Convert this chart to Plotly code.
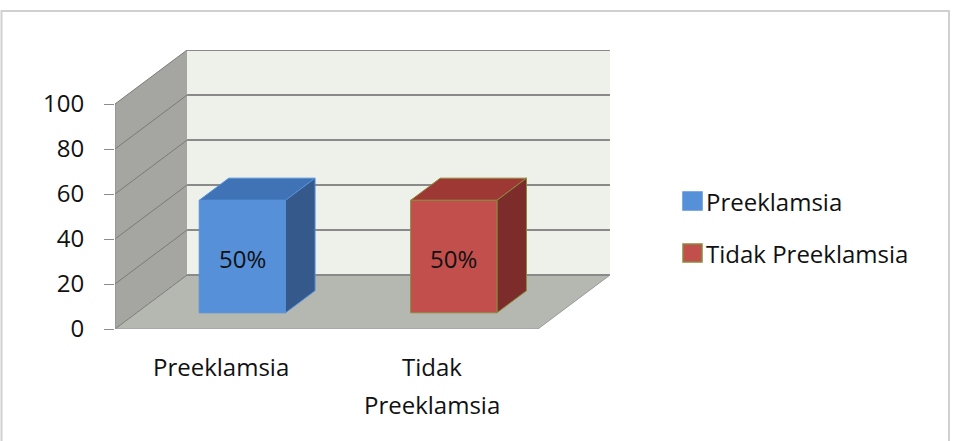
import plotly.graph_objects as go

# ---- data ----
categories = ["Preeklamsia", "Tidak Preeklamsia"]
category_lines = [["Preeklamsia"], ["Tidak", "Preeklamsia"]]
series_names = ["Preeklamsia", "Tidak Preeklamsia"]
values = [50, 50]
value_labels = ["50%", "50%"]
y_ticks = [0, 20, 40, 60, 80, 100]

# ---- styling / projection ----
W, H = 956, 441
L, T = 115, 50
R = W - 610
B = H - 329
DX, DY = 0.341, 24.0        # depth vector in data units (x, y)
HALF = 0.204                # half bar width (category units)
D0, D1 = 0.30, 0.71         # bar depth extent (fraction of floor depth)
FONT = "Open Sans"
FS = 24
TXT = "#111111"

front_cols = ["#5590D9", "#C24F4C"]
top_cols = ["#3F73B5", "#9E3835"]
side_cols = ["#35598A", "#7C2C2A"]
edge_cols = ["#5590D9", "#8A8A3C"]

n = len(categories)
xmin, xmax = -0.5, n - 0.5
ymax = max(y_ticks)

fig = go.Figure()

def poly(xs, ys, fill, line_color=None, lw=0):
    fig.add_trace(go.Scatter(
        x=list(xs) + [xs[0]], y=list(ys) + [ys[0]], mode="lines",
        fill="toself", fillcolor=fill,
        line=dict(color=line_color or fill, width=lw),
        hoverinfo="skip", showlegend=False))

def line(xs, ys, color, width):
    fig.add_trace(go.Scatter(x=xs, y=ys, mode="lines",
                             line=dict(color=color, width=width),
                             hoverinfo="skip", showlegend=False))

# side wall
poly([xmin, xmin + DX, xmin + DX, xmin], [0, DY, DY + ymax, ymax], "#A5A6A1")
# back wall
poly([xmin + DX, xmax + DX, xmax + DX, xmin + DX], [DY, DY, DY + ymax, DY + ymax], "#EEF1EA")
# floor
poly([xmin, xmax, xmax + DX, xmin + DX], [0, 0, DY, DY], "#B5B7B1")

# gridlines
for v in y_ticks:
    line([xmin, xmin + DX], [v, v + DY], "#7A7A78", 1)
    line([xmin + DX, xmax + DX], [v + DY, v + DY], "#8A8A8A", 2)
line([xmin, xmin], [0, ymax], "#8C8C8C", 1)
line([xmin, xmax], [0, 0], "#9A9A9A", 1)
line([xmax, xmax + DX], [0, DY], "#9A9A9A", 1)

# bars
for i, v in enumerate(values):
    x0 = i - HALF + D0 * DX
    x1 = i + HALF + D0 * DX
    yb = D0 * DY
    yt = v + D0 * DY
    ex, ey = (D1 - D0) * DX, (D1 - D0) * DY
    poly([x0, x1, x1 + ex, x0 + ex], [yt, yt, yt + ey, yt + ey], top_cols[i], edge_cols[i], 1)
    poly([x1, x1 + ex, x1 + ex, x1], [yb, yb + ey, yt + ey, yt], side_cols[i], edge_cols[i], 1)
    poly([x0, x1, x1, x0], [yb, yb, yt, yt], front_cols[i], edge_cols[i], 1)
    fig.add_annotation(x=(x0 + x1) / 2, y=(yb + yt) / 2, text=value_labels[i],
                       showarrow=False, font=dict(family=FONT, size=FS, color=TXT),
                       yshift=-2)

# category labels
for i, lines_ in enumerate(category_lines):
    for k, t in enumerate(lines_):
        fig.add_annotation(x=i, y=0, xref="x", yref="y", text=t, showarrow=False,
                           yanchor="middle", yshift=-37 - 38 * k,
                           font=dict(family=FONT, size=FS, color=TXT))

# legend (manual) — positions given in page pixels
pw, ph = W - L - R, H - T - B
def px(xp): return (xp - L) / pw
def py(yp): return (H - B - yp) / ph
leg_y = [201, 253]
for k, name in enumerate(series_names):
    fig.add_shape(type="rect", xref="paper", yref="paper",
                  x0=px(683), x1=px(702), y0=py(leg_y[k] + 9), y1=py(leg_y[k] - 9),
                  fillcolor=front_cols[k], line=dict(color=edge_cols[k], width=1.5))
    fig.add_annotation(xref="paper", yref="paper", x=px(704), y=py(leg_y[k]),
                       xanchor="left", yanchor="middle", text=name, showarrow=False,
                       font=dict(family=FONT, size=FS, color=TXT))

# chart border
fig.add_shape(type="rect", xref="paper", yref="paper",
              x0=px(1.5), x1=px(949), y0=py(446), y1=py(11),
              line=dict(color="#D0D0D0", width=2), fillcolor="rgba(0,0,0,0)", layer="below")

fig.update_layout(
    width=W, height=H,
    margin=dict(l=L, r=R, t=T, b=B),
    paper_bgcolor="white", plot_bgcolor="white",
    showlegend=False,
    xaxis=dict(range=[xmin, xmax + DX], showgrid=False, zeroline=False,
               showticklabels=False, ticks="", fixedrange=True,
               minor=dict(ticks="outside", tick0=-0.5, dtick=1, ticklen=7,
                          tickcolor="#8C8C8C", tickwidth=1, showgrid=False)),
    yaxis=dict(range=[0, ymax + DY], showgrid=False, zeroline=False,
               tickvals=y_ticks, ticks="outside", ticklen=10, tickcolor="#8C8C8C",
               ticklabelstandoff=15,
               tickfont=dict(family=FONT, size=FS, color=TXT), fixedrange=True),
)

fig.write_html("out.html", config={"displayModeBar": False},
               post_script="document.body.style.margin='0px';document.body.style.overflow='hidden';")
